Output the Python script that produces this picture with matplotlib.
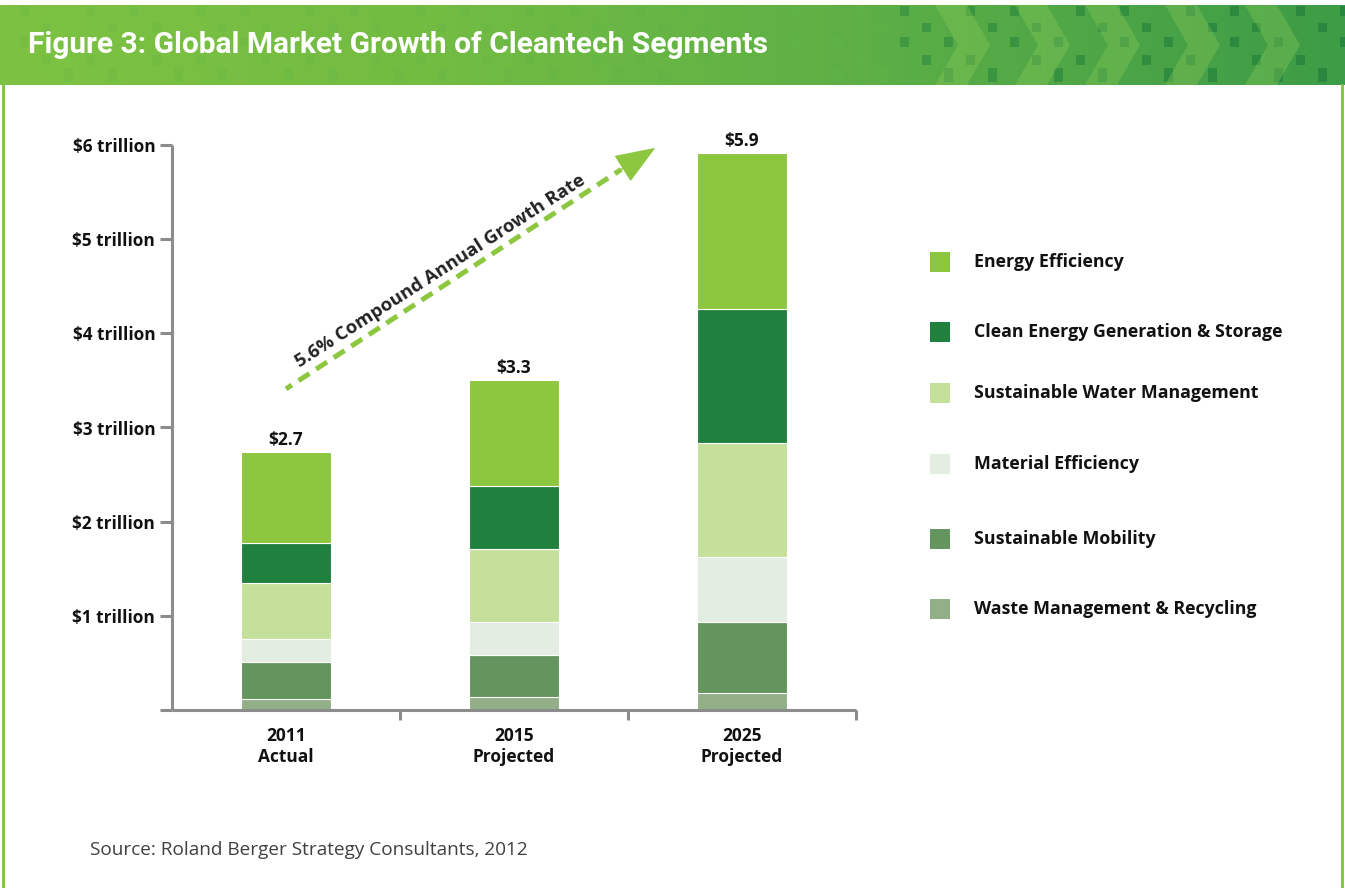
import matplotlib.pyplot as plt
import numpy as np
from matplotlib.patches import Rectangle, Polygon
from matplotlib.colors import LinearSegmentedColormap

# ---- data (trillion $) ----
years = ["2011\nActual", "2015\nProjected", "2025\nProjected"]
totals = ["$2.7", "$3.3", "$5.9"]
segments = ["Waste Management & Recycling", "Sustainable Mobility", "Material Efficiency",
            "Sustainable Water Management", "Clean Energy Generation & Storage", "Energy Efficiency"]
waste = [0.12, 0.135, 0.18]
mobility = [0.39, 0.45, 0.75]
material = [0.24, 0.35, 0.70]
water = [0.60, 0.77, 1.21]
clean = [0.425, 0.67, 1.42]
energy = [0.97, 1.13, 1.66]
colors = ["#93AF87", "#64955F", "#E3EDE1", "#C5E09B", "#20803D", "#8DC63F"]
yticks = [0, 1, 2, 3, 4, 5, 6]
ylabels = ["", "$1 trillion", "$2 trillion", "$3 trillion", "$4 trillion", "$5 trillion", "$6 trillion"]

W, H = 1345, 888
BODY = ["Open Sans", "DejaVu Sans"]
fig = plt.figure(figsize=(W / 100, H / 100), dpi=100)

def fx(px):
    return px / W

def fy(py):
    return 1 - py / H

# ---- header band ----
hax = fig.add_axes([0, fy(85), 1, 80 / H])
hax.set_xlim(0, W)
hax.set_ylim(85, 5)
hax.axis("off")
cmap = LinearSegmentedColormap.from_list("hdr", ["#7DC242", "#72BC43", "#5BAE46", "#3D9C47"])
hax.imshow(np.linspace(0, 1, 256)[None, :], aspect="auto", cmap=cmap, extent=[0, W, 85, 5])
rows = [(6, 16), (23, 32), (37, 47), (55, 65), (68, 82)]
for i, x in enumerate(range(20, W, 22)):
    t = (x - 20) / (W - 20)
    for j, (y0, y1) in enumerate(rows):
        if (i * 7 + j * 3) % 5 < 2:
            c = "#5FB446" if t < 0.65 else "#23823C"
            hax.add_patch(Rectangle((x, y0), 9, y1 - y0, color=c, alpha=0.2 + 0.6 * t ** 2, lw=0))
for x in [935, 1015, 1085, 1165, 1245]:
    hax.add_patch(Polygon([(x, 5), (x + 32, 5), (x + 55, 45), (x + 32, 85), (x, 85), (x + 23, 45)],
                          closed=True, color="#8CCB5A", alpha=0.35, lw=0))
fig.text(fx(28), fy(45), "Figure 3: Global Market Growth of Cleantech Segments", color="white",
         fontsize=21.5, fontweight="bold", va="center", ha="left",
         family=["Roboto", "DejaVu Sans"])

# frame lines
fig.add_artist(plt.Line2D([fx(3), fx(3)], [0, fy(85)], color="#7DC242", lw=2))
fig.add_artist(plt.Line2D([fx(1342), fx(1342)], [0, fy(85)], color="#7DC242", lw=2))

# ---- chart ----
ax = fig.add_axes([fx(172), fy(710), fx(856) - fx(172), fy(145) - fy(710)])
x = np.arange(len(years))
bottom = np.zeros(len(years))
for vals, col in zip([waste, mobility, material, water, clean, energy], colors):
    ax.bar(x, vals, width=0.395, bottom=bottom, color=col, edgecolor="white", linewidth=0.8)
    bottom += np.array(vals)
for xi, top, lab in zip(x, bottom, totals):
    ax.annotate(lab, (xi, top), xytext=(0, 2), textcoords="offset points", ha="center", va="bottom",
                fontsize=12.5, fontweight="bold", family=BODY, color="#111111")

ax.set_xlim(-0.5, 2.5)
ax.set_ylim(0, 6)
for s in ["top", "right"]:
    ax.spines[s].set_visible(False)
for s in ["left", "bottom"]:
    ax.spines[s].set_color("#8C8C8C")
    ax.spines[s].set_linewidth(2.2)
    ax.spines[s].set_capstyle("butt")
ax.set_yticks(yticks)
ax.set_yticklabels(ylabels, fontsize=12.4, fontweight="bold", family=BODY, color="#111111")
ax.tick_params(axis="y", length=8.6, width=2.2, color="#8C8C8C", pad=3.5)
ax.set_xticks([0.5, 1.5, 2.5])
ax.set_xticklabels([])
ax.tick_params(axis="x", which="major", length=7, width=2.2, color="#8C8C8C")
ax.set_xticks(x, minor=True)
ax.set_xticklabels(years, minor=True, fontsize=12.5, fontweight="bold", family=BODY,
                   color="#111111", linespacing=1.25)
ax.tick_params(axis="x", which="minor", length=0, pad=12)

# growth arrow
green = "#8DC63F"
ax.plot([0.0, 1.47], [3.41, 5.74], color=green, lw=3.6, ls=(1.2, (2.6, 1.6)), clip_on=False,
        solid_capstyle="butt", dash_capstyle="butt")
ax.annotate("", xy=(1.62, 5.97), xytext=(1.46, 5.725),
            arrowprops=dict(arrowstyle="-|>,head_length=2.6,head_width=1.0", color=green, lw=1,
                            shrinkA=0, shrinkB=0), annotation_clip=False)
fig.text(fx(440), fy(271), "5.6% Compound Annual Growth Rate", rotation=32.8, rotation_mode="anchor",
         ha="center", va="center", fontsize=13.3, fontweight="bold", family=BODY, color="#222222")

# ---- legend ----
leg_y = [262, 332, 393, 464, 539, 609]
for name, py in zip(segments[::-1], leg_y):
    col = colors[segments.index(name)]
    fig.add_artist(Rectangle((fx(930), fy(py + 10)), 20 / W, 20 / H, color=col, lw=0))
    fig.text(fx(974), fy(py), name, fontsize=12.8, fontweight="bold", family=BODY,
             color="#111111", va="center", ha="left")

fig.text(fx(90), fy(850), "Source: Roland Berger Strategy Consultants, 2012", fontsize=13.7,
         family=BODY, color="#404040", va="center", ha="left")

fig.savefig("out.png", dpi=100)
